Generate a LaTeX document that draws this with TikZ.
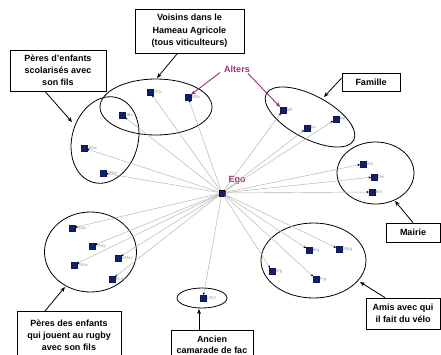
\documentclass[tikz,border=0pt]{standalone}
\usepackage{fontspec}
\setmainfont{Liberation Sans}
\usetikzlibrary{shapes.geometric,arrows.meta}
\definecolor{navy}{RGB}{18,32,105}
\definecolor{alterpurple}{RGB}{165,45,115}
\tikzset{
  alter/.style={rectangle,fill=navy,draw=navy!80!black,minimum size=5.5pt,inner sep=0pt},
  lab/.style={anchor=west,inner sep=0.6pt,text=gray!80,font=\fontsize{4.3}{5}\selectfont},
  edge/.style={draw=gray!60,line width=0.45pt,-{Stealth[length=2.6pt,width=2.2pt,black]}},
  box/.style={draw,line width=0.8pt,fill=white,align=center,inner sep=1pt,
              font=\fontsize{9}{12.5}\selectfont\bfseries},
  grp/.style={draw,ellipse,line width=0.8pt,inner sep=0pt},
  boxarrow/.style={draw,line width=0.8pt,-{Stealth[length=5pt,width=4pt]}},
  purparrow/.style={draw=alterpurple,line width=0.9pt,-{Stealth[length=5pt,width=4pt]}},
  purplabel/.style={text=alterpurple,font=\fontsize{9}{10}\selectfont\bfseries,inner sep=1pt}
}
\begin{document}
\begin{tikzpicture}[x=1pt,y=-1pt]
\useasboundingbox (0,0) rectangle (441,354);
\fill[white] (0,0) rectangle (441,354);

% group ellipses
\node[grp,minimum width=112pt,minimum height=56pt] (gV) at (156,107) {};
\node[grp,minimum width=88pt,minimum height=66pt,rotate=74] (gS) at (105,140) {};
\node[grp,minimum width=99pt,minimum height=43pt,rotate=-28] (gF) at (310,117) {};
\node[grp,minimum width=77pt,minimum height=62pt] (gM) at (375.5,173) {};
\node[grp,minimum width=92pt,minimum height=80pt] (gR) at (90.5,252) {};
\node[grp,minimum width=50pt,minimum height=20pt] (gC) at (202,298) {};
\node[grp,minimum width=105pt,minimum height=75pt] (gA) at (313.5,260.5) {};

% ego
\node[rectangle,fill=navy,draw=black,line width=0.6pt,minimum size=6pt,inner sep=0pt] (ego) at (222,193) {};
\node[purplabel] (egolab) at (237,180) {Ego};

% alters
\node[alter] (a1) at (150,92) {};   \node[lab] at (a1.east) {JClv};
\node[alter] (a2) at (188,97) {};   \node[lab] at (a2.east) {GRv};
\node[alter] (a3) at (122,115) {};  \node[lab] at (a3.east) {JBv};
\node[alter] (a4) at (84,148) {};   \node[lab] at (a4.east) {JDsc};
\node[alter] (a5) at (103,173) {};  \node[lab] at (a5.east) {GRsc};
\node[alter] (a6) at (283,110) {};  \node[lab] at (a6.east) {MF};
\node[alter] (a7) at (307,128) {};  \node[lab] at (a7.east) {FF};
\node[alter] (a8) at (336,119) {};  \node[lab] at (a8.east) {PF};
\node[alter] (a9) at (363,164) {};  \node[lab] at (a9.east) {Sm};
\node[alter] (a10) at (374,177) {}; \node[lab] at (a10.east) {Dm};
\node[alter] (a11) at (372,192) {}; \node[lab] at (a11.east) {Bm};
\node[alter] (a12) at (309,250) {}; \node[lab] at (a12.east) {Brg};
\node[alter] (a13) at (339,249) {}; \node[lab] at (a13.east) {XBrg};
\node[alter] (a14) at (272,271) {}; \node[lab] at (a14.east) {Vrg};
\node[alter] (a15) at (316,279) {}; \node[lab] at (a15.east) {Frg};
\node[alter] (a16) at (203,298) {}; \node[lab] at (a16.east) {LGcf};
\node[alter] (a17) at (72,228) {};  \node[lab] at (a17.east) {PDav};
\node[alter] (a18) at (92,246) {};  \node[lab] at (a18.east) {VFay};
\node[alter] (a19) at (118,258) {}; \node[lab] at (a19.east) {VMaz};
\node[alter] (a20) at (74,265) {};  \node[lab] at (a20.east) {PBav};
\node[alter] (a21) at (112,279) {}; \node[lab] at (a21.east) {FLav};

\foreach \i in {1,...,21} { \draw[edge] (ego) -- (a\i); }

% boxes
\node[box,minimum width=109pt,minimum height=44pt] (bV) at (189.5,31) {Voisins dans le\\Hameau Agricole\\(tous viticulteurs)};
\node[box,minimum width=96pt,minimum height=41pt,font=\fontsize{9}{12}\selectfont\bfseries] (bS) at (58,70.5) {Pères d'enfants\\scolarisés avec\\son fils};
\node[box,minimum width=58pt,minimum height=18pt] (bF) at (371,82) {Famille};
\node[box,minimum width=54pt,minimum height=19pt] (bM) at (413,232.5) {Mairie};
\node[box,minimum width=74pt,minimum height=31pt,font=\fontsize{9}{12}\selectfont\bfseries] (bA) at (403,313.5) {Amis avec qui\\il fait du vélo};
\node[box,minimum width=104pt,minimum height=48pt,anchor=north,font=\fontsize{9}{12}\selectfont\bfseries] (bR) at (69,311) {Pères des enfants\\qui jouent au rugby\\avec son fils};
\node[box,minimum width=82pt,minimum height=28pt,anchor=north,inner sep=0.5pt,font=\fontsize{9}{11}\selectfont\bfseries] (bC) at (212,330) {Ancien\\camarade de fac};

% arrow targets on the group outlines
\coordinate (tV) at (157,78);
\coordinate (tS) at (72,122);
\coordinate (tF) at (324,97);
\coordinate (tM) at (395,201);
\coordinate (tA) at (360,282);
\coordinate (tR) at (65,287);
\coordinate (tC) at (199,309);

\draw[boxarrow] ([xshift=-12pt]bV.south) -- (tV);
\draw[boxarrow] ([xshift=-13pt]bS.south) -- (tS);
\draw[boxarrow] ([yshift=4pt]bF.west) -- (tF);
\draw[boxarrow] (bM.north) -- (tM);
\draw[boxarrow] ([xshift=-18pt]bA.north) -- (tA);
\draw[boxarrow] ([xshift=-24pt]bR.north) -- (tR);
\draw[boxarrow] ([xshift=-13pt]bC.north) -- (tC);

% Alters label
\node[purplabel] (alters) at (237,69) {Alters};
\draw[purparrow] ([xshift=-3pt,yshift=1pt]alters.south west) -- (a2);
\draw[purparrow] ([xshift=-3pt]alters.south east) -- (a6);
\end{tikzpicture}
\end{document}
